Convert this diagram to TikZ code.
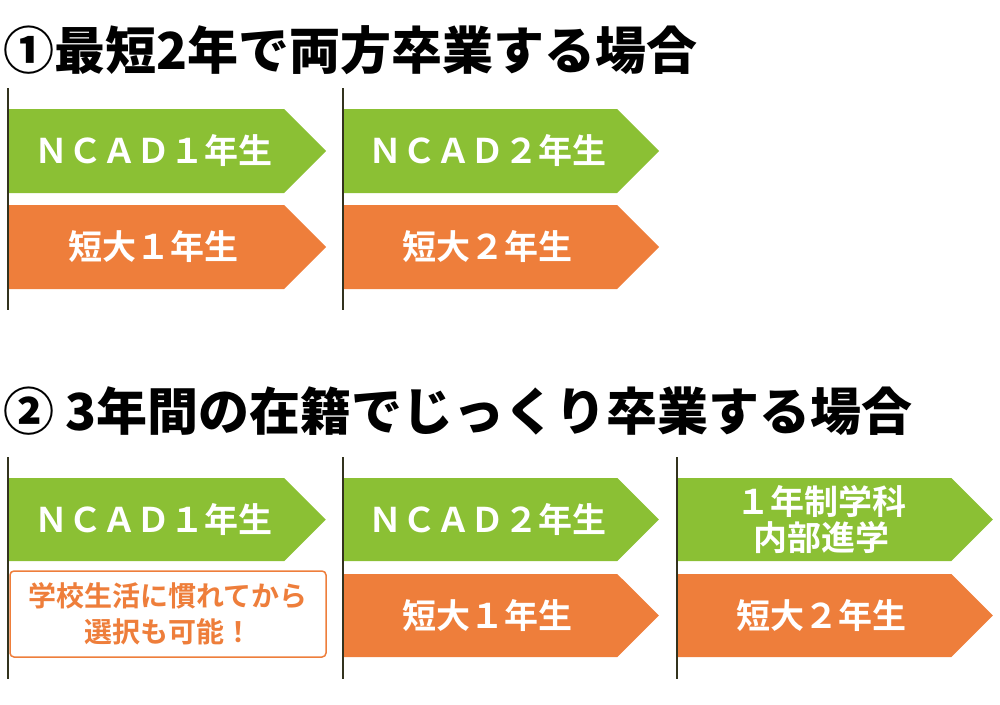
\documentclass[tikz,border=0pt]{standalone}
\usepackage{fontspec}
\setmainfont{Noto Sans CJK JP}[BoldFont={Noto Sans CJK JP Bold}]
\newfontfamily\heavyfont{Noto Sans CJK JP Black}
\usetikzlibrary{shapes.symbols}

\definecolor{ncadgreen}{HTML}{8BC034}
\definecolor{tandaiorange}{HTML}{EE7E3B}
\definecolor{linedark}{HTML}{33331E}

\tikzset{
    yearbox/.style={signal, signal to=east, signal from=nowhere,
        signal pointer angle=90, minimum height=84pt, inner sep=0pt,
        text=white, align=center,
        execute at begin node={\hspace*{14pt}},
        font=\bfseries\fontsize{34}{36}\selectfont},
    ncadbox/.style={yearbox, fill=ncadgreen},
    tandaibox/.style={yearbox, fill=tandaiorange},
    titletext/.style={anchor=west, inner sep=0pt,
        font=\heavyfont\fontsize{51}{51}\selectfont},
    timeline/.style={linedark, line width=2pt}
}

\begin{document}
\begin{tikzpicture}[x=1pt, y=-1pt]
    \useasboundingbox (0,0) rectangle (1000,704);

    % Case 1
    \node[titletext] (title1) at (3,50) {①最短2年で両方卒業する場合};

    \node[ncadbox, minimum width=317pt] (ncad1a) at (146.5,151) {ＮＣＡＤ１年生};
    \node[tandaibox, minimum width=317pt] (tandai1a) at (146.5,247) {短大１年生};
    \node[ncadbox, minimum width=315pt] (ncad2a) at (480.5,151) {ＮＣＡＤ２年生};
    \node[tandaibox, minimum width=315pt] (tandai2a) at (480.5,247) {短大２年生};

    \draw[timeline] (8,88) -- (8,310);
    \draw[timeline] (343,88) -- (343,310);

    % Case 2
    \node[titletext] (title2) at (3,411) {② 3年間の在籍でじっくり卒業する場合};

    \node[ncadbox, minimum width=317pt, minimum height=83pt] (ncad1b) at (146.5,519.5) {ＮＣＡＤ１年生};
    \node[draw=tandaiorange, fill=white, line width=1.5pt, rounded corners=4pt,
        minimum width=316pt, minimum height=86pt, inner sep=0pt, align=center,
        text=tandaiorange, font=\bfseries\fontsize{28}{36}\selectfont]
        (choice) at (168,614) {学校生活に慣れてから\\選択も可能！};
    \node[ncadbox, minimum width=315pt, minimum height=83pt] (ncad2b) at (480.5,519.5) {ＮＣＡＤ２年生};
    \node[tandaibox, minimum width=315pt, minimum height=83pt] (tandai1b) at (480.5,615.5) {短大１年生};
    \node[ncadbox, minimum width=315pt, minimum height=83pt] (naibu) at (814.5,519.5) {１年制学科\\内部進学};
    \node[tandaibox, minimum width=315pt, minimum height=83pt] (tandai2b) at (814.5,615.5) {短大２年生};

    \draw[timeline] (8,457) -- (8,679);
    \draw[timeline] (343,457) -- (343,679);
    \draw[timeline] (677,457) -- (677,679);
\end{tikzpicture}
\end{document}
